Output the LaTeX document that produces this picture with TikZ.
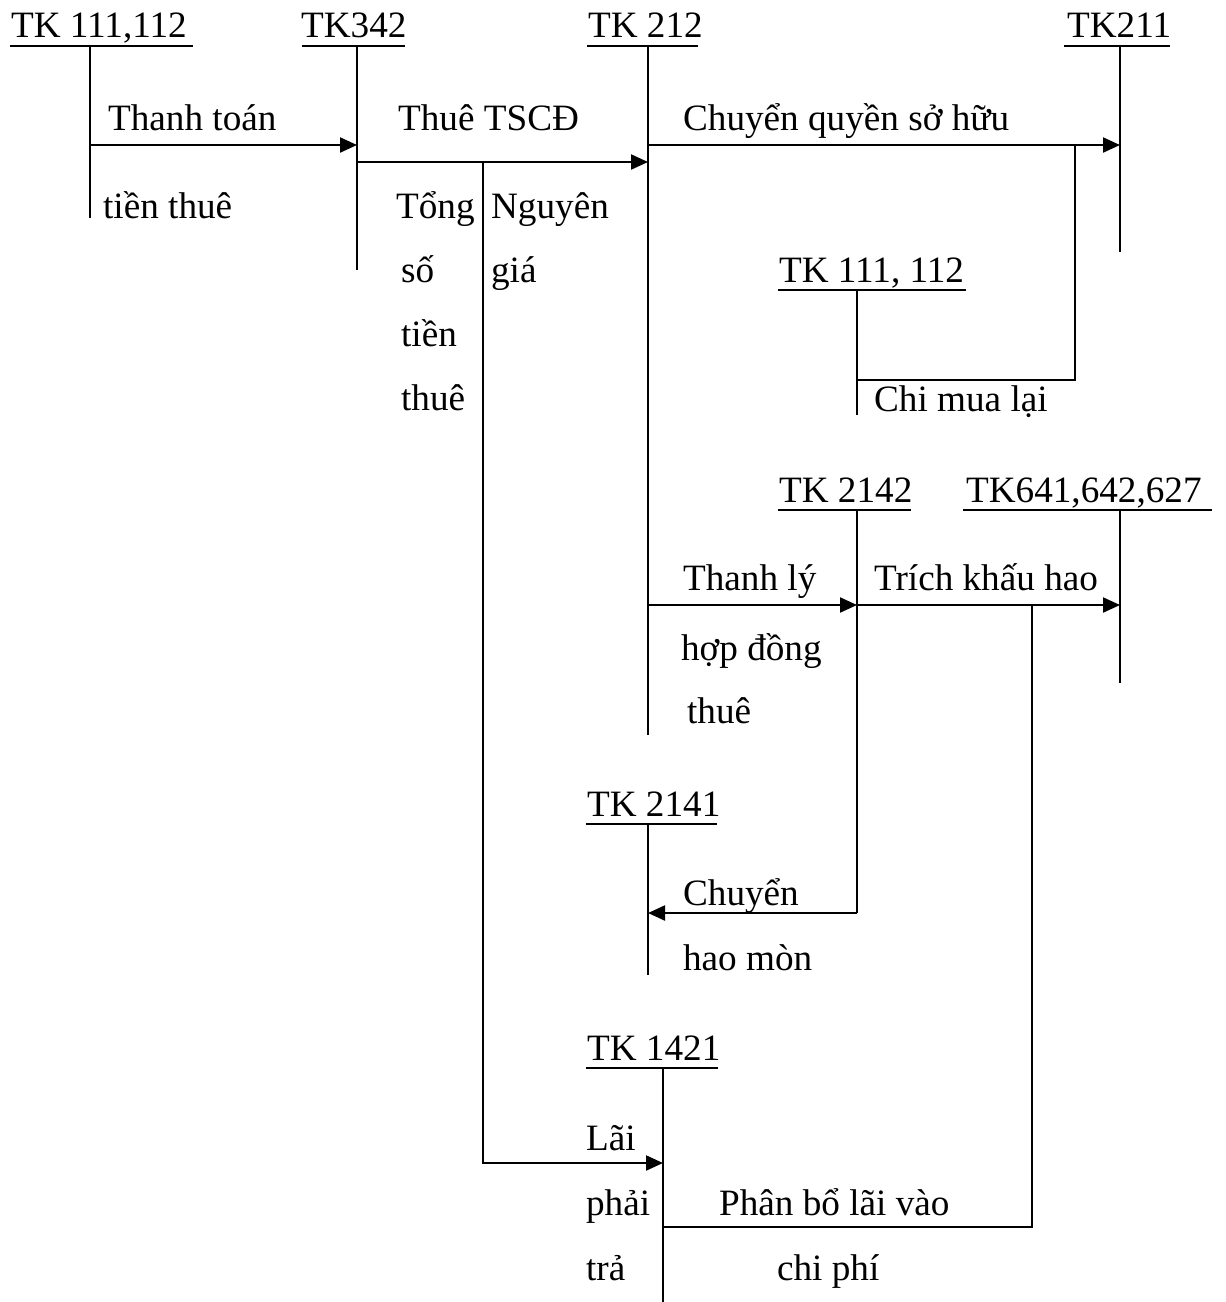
\documentclass[tikz,border=0pt]{standalone}
\usepackage{fontspec}
\setmainfont{Liberation Serif}
\usetikzlibrary{arrows.meta}
\begin{document}
\begin{tikzpicture}[x=0.5pt,y=-0.5pt,line width=1.1pt,
  lbl/.style={anchor=base west,inner sep=0pt,font=\fontsize{18.6}{22}\selectfont},
  arr/.style={-{Triangle[length=8.5pt,width=7.5pt]}}]
\useasboundingbox[fill=white] (0,0) rectangle (1226,1302);

% ---- account headers ----
\node[lbl] (n111) at (10,37) {TK 111,112};
\node[lbl] (n342) at (300,37) {TK342};
\node[lbl] (n212) at (587,37) {TK 212};
\node[lbl] (n211) at (1066,37) {TK211};
\node[lbl] (n111b) at (778,282) {TK 111, 112};
\node[lbl] (n2142) at (778,502) {TK 2142};
\node[lbl] (n641) at (965,502) {TK641,642,627};
\node[lbl] (n2141) at (586,816) {TK 2141};
\node[lbl] (n1421) at (586,1060) {TK 1421};

% underlines
\draw (10,46) -- (193,46);
\draw (302,46) -- (405,46);
\draw (587,46) -- (698,46);
\draw (1064,46) -- (1170,46);
\draw (778,290) -- (966,290);
\draw (778,510) -- (911,510);
\draw (963,510) -- (1212,510);
\draw (586,824) -- (717,824);
\draw (586,1068) -- (718,1068);

% T-account vertical lines
\coordinate (t111) at (90,46);   \coordinate (b111) at (90,218);
\coordinate (t342) at (357,46);  \coordinate (b342) at (357,270);
\coordinate (t212) at (648,46);  \coordinate (b212) at (648,735);
\coordinate (t211) at (1120,46); \coordinate (b211) at (1120,252);
\coordinate (t111b) at (857,290); \coordinate (b111b) at (857,415);
\coordinate (t2142) at (857,510); \coordinate (b2142) at (857,913);
\coordinate (t641) at (1120,510); \coordinate (b641) at (1120,683);
\coordinate (t2141) at (648,824); \coordinate (b2141) at (648,975);
\coordinate (t1421) at (663,1068); \coordinate (b1421) at (663,1302);
\draw (t111) -- (b111);
\draw (t342) -- (b342);
\draw (t212) -- (b212);
\draw (t211) -- (b211);
\draw (t111b) -- (b111b);
\draw (t2142) -- (b2142);
\draw (t641) -- (b641);
\draw (t2141) -- (b2141);
\draw (t1421) -- (b1421);

% ---- connectors ----
\draw[arr] (90,145) -- (357,145);
\draw[arr] (357,162) -- (648,162);
\draw[arr] (648,145) -- (1120,145);
\draw (1075,145) -- (1075,380) -- (857,380);
\draw[arr] (648,605) -- (857,605);
\draw[arr] (857,605) -- (1120,605);
\draw[arr] (857,913) -- (648,913);
\draw[arr] (483,162) -- (483,1163) -- (663,1163);
\draw (663,1227) -- (1032,1227) -- (1032,605);

% ---- labels ----
\node[lbl] (l1) at (107,130) {Thanh toán};
\node[lbl] (l2) at (102,218) {tiền thuê};
\node[lbl] (l3) at (397,130) {Thuê TSCĐ};
\node[lbl] (l4) at (395,218) {Tổng};
\node[lbl] (l5) at (400,282) {số};
\node[lbl] (l6) at (400,346) {tiền};
\node[lbl] (l7) at (400,410) {thuê};
\node[lbl] (l8) at (490,218) {Nguyên};
\node[lbl] (l9) at (490,282) {giá};
\node[lbl] (l10) at (682,130) {Chuyển quyền sở hữu};
\node[lbl] (l11) at (873,411) {Chi mua lại};
\node[lbl] (l12) at (682,590) {Thanh lý};
\node[lbl] (l13) at (680,660) {hợp đồng};
\node[lbl] (l14) at (686,723) {thuê};
\node[lbl] (l15) at (873,590) {Trích khấu hao};
\node[lbl] (l16) at (682,905) {Chuyển};
\node[lbl] (l17) at (682,970) {hao mòn};
\node[lbl] (l18) at (585,1150) {Lãi};
\node[lbl] (l19) at (585,1215) {phải};
\node[lbl] (l20) at (585,1280) {trả};
\node[lbl] (l21) at (718,1215) {Phân bổ lãi vào};
\node[lbl] (l22) at (776,1280) {chi phí};
\end{tikzpicture}
\end{document}
